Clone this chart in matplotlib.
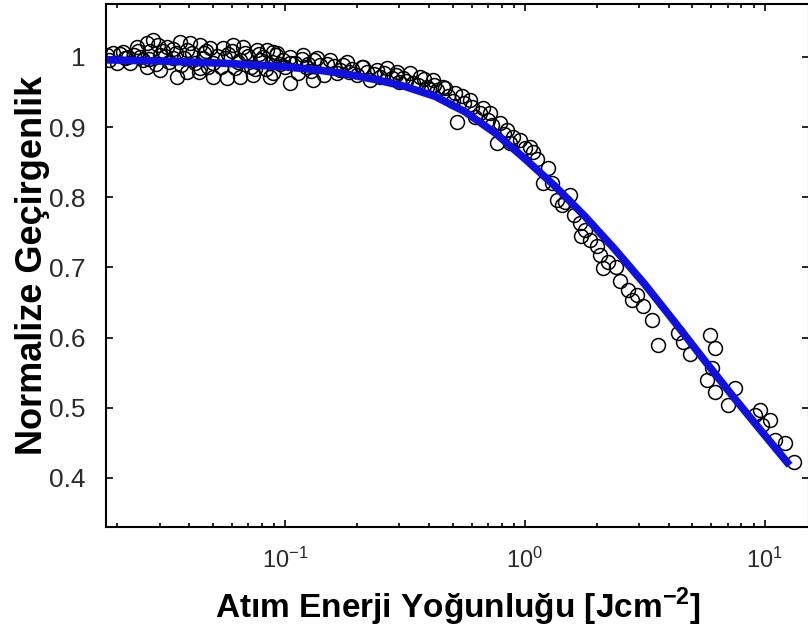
import matplotlib
matplotlib.use('Agg')
import matplotlib.pyplot as plt
import numpy as np

plt.rcParams['font.family'] = ['Liberation Sans', 'DejaVu Sans']
plt.rcParams['mathtext.fontset'] = 'custom'
plt.rcParams['mathtext.rm'] = 'Liberation Sans'
plt.rcParams['mathtext.bf'] = 'Liberation Sans:bold'

# olcum noktalari (enerji yogunlugu, normalize gecirgenlik)
olcum_x = [0.0181, 0.0192, 0.0211, 0.0242, 0.0266, 0.0282, 0.0296, 0.0322, 0.0365, 0.0402,
           0.0442, 0.0487, 0.0552, 0.0607, 0.0668, 0.0764, 0.0841, 0.0891, 0.0200, 0.0226,
           0.0266, 0.0302, 0.0355, 0.0391, 0.0442, 0.0501, 0.0573, 0.0649, 0.0736, 0.0866,
           0.0249, 0.0341, 0.0455, 0.0649, 0.0787, 0.0302,
           0.0215, 0.0235, 0.0255, 0.0275, 0.029, 0.031, 0.033, 0.035, 0.037, 0.039,
           0.042, 0.046, 0.048, 0.052, 0.054, 0.058, 0.062, 0.070, 0.072, 0.081,
           0.083, 0.095, 0.100, 0.110, 0.113, 0.125, 0.128, 0.140, 0.145, 0.160,
           0.170, 0.190, 0.200, 0.220, 0.250, 0.280, 0.300, 0.320, 0.360, 0.380,
           0.400, 0.420,
           0.0185, 0.0205, 0.0222, 0.0245, 0.027, 0.0315, 0.034, 0.038, 0.041, 0.044,
           0.047, 0.050, 0.056, 0.060, 0.064, 0.068, 0.075, 0.078, 0.088, 0.092,
           0.098, 0.105, 0.118, 0.122, 0.132, 0.150, 0.175, 0.185, 0.210, 0.235,
           0.260, 0.290,
           0.0926, 0.105, 0.119, 0.136, 0.154, 0.181, 0.105, 0.131, 0.211, 0.242,
           0.266, 0.293, 0.332, 0.365, 0.414, 0.455, 0.310, 0.226, 0.0891, 0.165,
           0.391, 0.341,
           0.430, 0.464, 0.511, 0.546, 0.590, 0.521, 0.649, 0.668, 0.715, 0.787,
           0.764, 0.841, 0.891, 0.953, 1.049, 1.080, 1.247, 1.189, 1.359, 1.426,
           0.48, 0.50, 0.56, 0.60, 0.62, 0.70, 0.73, 0.82, 0.87, 1.00, 1.12, 1.30,
           1.468, 1.540, 1.695, 1.778, 1.866, 2.054, 2.113, 2.218, 2.687, 2.79,
           2.93, 3.38, 3.58, 4.34, 4.55, 4.87, 5.90, 6.19, 6.02, 5.73,
           6.19, 7.50, 7.03, 9.09, 9.71, 10.5, 11.0, 12.1, 13.3, 9.53,
           1.60, 1.72, 2.00, 2.40, 2.50, 3.10]
olcum_y = [1.003, 1.006, 1.007, 1.014, 1.020, 1.024, 1.017, 1.014, 1.021, 1.020,
           1.017, 1.013, 1.013, 1.017, 1.014, 1.010, 1.010, 1.007, 0.991, 0.991,
           0.986, 0.981, 0.972, 0.979, 0.984, 0.972, 0.970, 0.972, 0.974, 0.972,
           1.000, 0.999, 0.999, 0.996, 0.996, 1.003,
           0.998, 1.003, 0.995, 1.008, 0.990, 1.009, 0.993, 1.005, 0.988, 1.010,
           0.992, 1.005, 0.986, 1.002, 0.985, 1.004, 0.984, 1.002, 0.986, 1.000,
           0.983, 0.990, 0.985, 0.992, 0.977, 0.990, 0.980, 0.988, 0.975, 0.987,
           0.982, 0.983, 0.975, 0.978, 0.972, 0.970, 0.965, 0.966, 0.960, 0.968,
           0.955, 0.960,
           0.995, 1.004, 1.000, 1.009, 0.997, 1.002, 1.011, 0.998, 1.006, 0.979,
           1.008, 0.992, 0.999, 1.009, 0.993, 1.006, 0.983, 1.004, 0.993, 1.003,
           0.996, 0.991, 0.997, 0.986, 0.995, 0.990, 0.988, 0.978, 0.985, 0.976,
           0.977, 0.974,
           1.006, 1.000, 1.003, 0.999, 0.996, 0.993, 0.963, 0.967, 0.986, 0.981,
           0.984, 0.979, 0.977, 0.972, 0.967, 0.957, 0.970, 0.967, 0.977, 0.977,
           0.957, 0.963,
           0.953, 0.956, 0.949, 0.944, 0.939, 0.907, 0.920, 0.927, 0.920, 0.906,
           0.877, 0.896, 0.886, 0.882, 0.872, 0.865, 0.842, 0.821, 0.796, 0.789,
           0.945, 0.937, 0.935, 0.928, 0.915, 0.910, 0.903, 0.890, 0.877, 0.870, 0.855, 0.820,
           0.793, 0.803, 0.764, 0.754, 0.739, 0.718, 0.699, 0.708, 0.668, 0.654,
           0.660, 0.625, 0.590, 0.607, 0.593, 0.576, 0.604, 0.585, 0.557, 0.540,
           0.523, 0.528, 0.504, 0.490, 0.476, 0.483, 0.454, 0.450, 0.423, 0.497,
           0.775, 0.745, 0.730, 0.700, 0.680, 0.645]

# fit egrisi
fit_x = [0.0178, 0.0316, 0.0562, 0.100, 0.1334, 0.1778, 0.2371, 0.3162, 0.4217, 0.5623,
         0.7499, 1.00, 1.334, 1.778, 2.371, 3.162, 4.217, 5.623, 7.499, 10.0, 12.7]
fit_y = [0.996, 0.994, 0.991, 0.986, 0.982, 0.976, 0.968, 0.958, 0.944, 0.922,
         0.892, 0.855, 0.816, 0.773, 0.726, 0.676, 0.622, 0.567, 0.513, 0.461, 0.418]

fig = plt.figure(figsize=(8.08, 6.39), dpi=100)
ax = fig.add_axes([106/808, 1-527/639, (809-106)/808, (527-4)/639])

ax.plot(olcum_x, olcum_y, 'o', mfc='none', mec='black', ms=10, mew=1.1)
ax.plot(fit_x, fit_y, color='#1010e0', lw=5.5, solid_capstyle='butt',
        solid_joinstyle='round')

ax.set_xscale('log')
ax.set_xlim(0.01795, 15.3)
ax.set_ylim(0.33, 1.0755)
ax.set_yticks([0.4, 0.5, 0.6, 0.7, 0.8, 0.9, 1.0])
ax.set_yticklabels(['0.4', '0.5', '0.6', '0.7', '0.8', '0.9', '1'])

ax.tick_params(which='both', direction='in', top=True, right=True, colors='black',
               labelcolor='#2a2a2a')
ax.tick_params(axis='y', labelsize=19, pad=15)
ax.tick_params(axis='x', labelsize=17, pad=15)
ax.tick_params(which='major', length=5, width=1.2)
ax.tick_params(which='minor', length=3, width=1.2)
for s in ax.spines.values():
    s.set_linewidth(1.5)

ax.set_ylabel('Normalize Geçirgenlik', fontsize=26, fontweight='bold', labelpad=-1)
ax.set_xlabel(r'Atım Enerji Yoğunluğu [Jcm$^{\mathbf{-2}}$]', fontsize=24,
              fontweight='bold', labelpad=9)

fig.savefig('out.png', dpi=100)
